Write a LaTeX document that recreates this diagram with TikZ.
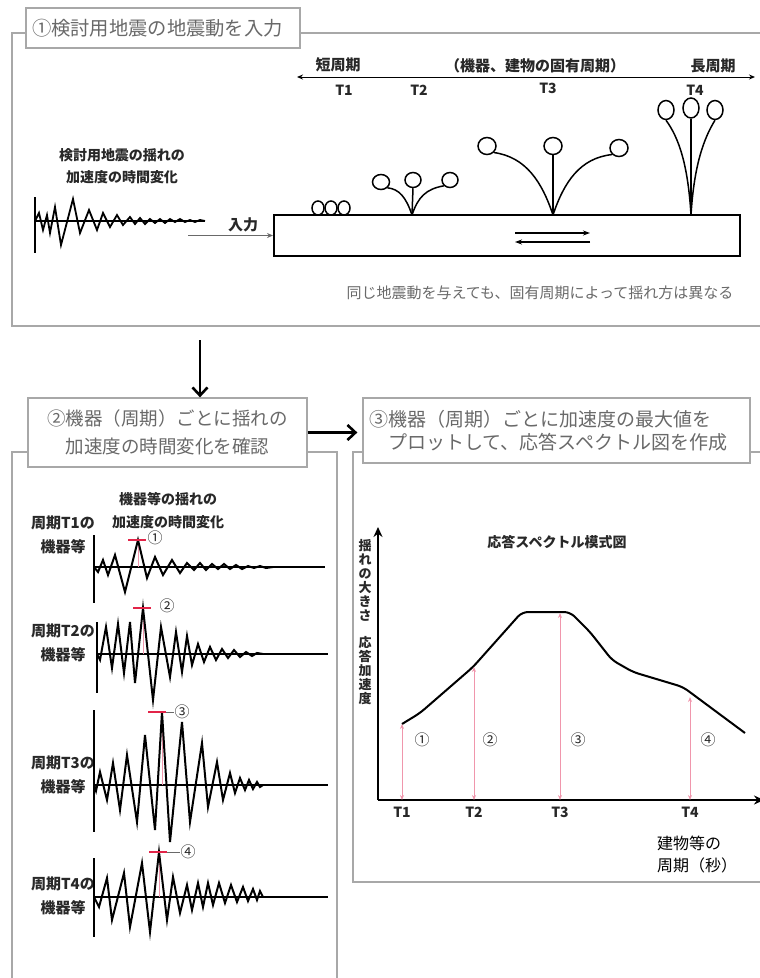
\documentclass[tikz,border=0pt]{standalone}
\usepackage{fontspec}
\setmainfont{Noto Sans CJK JP}
\usepackage{tikz}
\usetikzlibrary{positioning,arrows.meta,shapes.geometric}
\definecolor{framegray}{RGB}{168,168,168}
\definecolor{titlegray}{RGB}{105,105,105}
\definecolor{inkdark}{RGB}{40,40,40}
\definecolor{peakred}{RGB}{226,36,72}
\definecolor{peakpink}{RGB}{240,150,172}

\begin{document}
\begin{tikzpicture}[x=1pt, y=-1pt,
      every node/.style={inner sep=0pt, text=inkdark},
      panel/.style={draw=framegray, line width=1.6pt},
      ttl/.style={draw=framegray, fill=white, line width=1.3pt, text=titlegray, inner xsep=6pt, inner ysep=0pt},
      lbl/.style={font=\fontsize{14}{22}\selectfont\bfseries, align=center},
      period/.style={font=\fontsize{15}{24}\selectfont\bfseries, align=center},
      tick/.style={font=\fontsize{14}{14}\selectfont\bfseries},
      num/.style={font=\fontsize{15}{15}\selectfont},
      ball/.style={ellipse, draw=black, line width=1.5pt, minimum width=16pt, minimum height=15pt},
      stem/.style={line width=1.5pt},
      wave/.style={line width=2pt},
      waxis/.style={line width=1.3pt},
      peakbar/.style={draw=peakred, line width=1.7pt},
      peakline/.style={draw=peakpink, line width=1pt},
      flow/.style={line width=2.6pt, -{Straight Barb[length=8pt,width=15pt]}},
      resp/.style={draw=peakpink, line width=1pt, {Stealth[length=5pt,width=4pt]}-{Stealth[length=5pt,width=4pt]}},
      chartaxis/.style={line width=2.6pt, -{Stealth[length=10pt,width=9pt]}}
    ]
      \useasboundingbox (0,0) rectangle (760,978);

      % frames of the three panels
      \draw[panel] (12,33) rectangle (772,326);
      \draw[panel] (12,990) -- (12,452) -- (337,452) -- (337,990);
      \draw[panel] (353,452) rectangle (772,882);

      % panel titles
      \node[ttl, font=\fontsize{19.3}{24}\selectfont, text width=262pt, align=left, minimum height=40pt] (t1) at (163,28) {①検討用地震の地震動を入力};
      \node[ttl, font=\fontsize{18.5}{28}\selectfont, text width=267pt, align=center, minimum height=69pt] (t2) at (167.5,432.5) {②機器（周期）ごとに揺れの\\加速度の時間変化を確認};
      \node[ttl, font=\fontsize{19}{23}\selectfont, text width=375pt, align=left, minimum height=65pt] (t3) at (556.5,430.5) {③機器（周期）ごとに加速度の最大値を\\\hspace*{1em}プロットして、応答スペクトル図を作成};

      \coordinate (drop) at (200,340);
      \draw[flow] (drop) -- (drop |- t2.north);
      \draw[flow, shorten >=5pt] (t2.east) -- (t2.east -| t3.west);

      % ---- panel 1: input motion and the period axis ----
      \coordinate (tl) at (297,77);
      \coordinate (tr) at (755,77);
      \draw[line width=1pt, {Stealth[length=6pt,width=5pt]}-{Stealth[length=6pt,width=5pt]}] (tl) -- (tr);
      \node[tick, font=\fontsize{15}{15}\selectfont\bfseries] (short) at (338,65) {短周期};
      \node[tick, font=\fontsize{15}{15}\selectfont\bfseries] (mid) at (535,66) {（機器、建物の固有周期）};
      \node[tick, font=\fontsize{15}{15}\selectfont\bfseries] (long) at (713,66) {長周期};
      \foreach \x/\y [count=\i] in {344/90, 419/90, 548/88, 695/90}
        \node[tick] (tp\i) at (\x,\y) {T\i};

      % building block
      \node[draw=black, line width=2pt, minimum width=466pt, minimum height=41pt] (base) at (507,235.5) {};
      \coordinate (mvR) at (590,233);
      \coordinate (mvL) at (515,242);
      \draw[line width=1.3pt, -{Stealth[length=7pt,width=5pt]}] (mvL |- mvR) -- (mvR);
      \draw[line width=1.3pt, -{Stealth[length=7pt,width=5pt]}] (mvR |- mvL) -- (mvL);

      % T1: rigid, three balls on the floor
      \foreach \i/\x in {1/318, 2/331, 3/344}
        \node[ball, minimum width=12pt, minimum height=14pt] (a\i) at (\x,208) {};

      % T2
      \coordinate (b0) at (412,215);
      \node[ball, minimum width=17pt] (b1) at (381,182) {};
      \node[ball] (b2) at (413,180) {};
      \node[ball] (b3) at (450,180) {};
      \draw[stem] (b0) -- (b2.south);
      \draw[stem] (b0) .. controls (406,197) and (399,189) .. (b1.south east);
      \draw[stem] (b0) .. controls (418,197) and (426,189) .. (b3.south west);

      % T3
      \coordinate (c0) at (553,215);
      \node[ball, minimum width=18pt, minimum height=17pt] (c1) at (487,146) {};
      \node[ball, minimum width=18pt, minimum height=17pt] (c2) at (553,146) {};
      \node[ball, minimum width=18pt, minimum height=17pt] (c3) at (619,148) {};
      \draw[stem] (c0) -- (c2.south);
      \draw[stem] (c0) .. controls (542,182) and (526,157) .. (c1.south east);
      \draw[stem] (c0) .. controls (564,182) and (580,158) .. (c3.south west);

      % T4
      \coordinate (d0) at (691,215);
      \node[ball, minimum width=16pt, minimum height=19pt] (d1) at (666,110) {};
      \node[ball, minimum width=16pt, minimum height=20pt] (d2) at (691,108) {};
      \node[ball, minimum width=16pt, minimum height=19pt] (d3) at (715,110) {};
      \draw[stem] (d0) -- (d2.south);
      \draw[stem] (d0) .. controls (688,165) and (679,138) .. (d1.south);
      \draw[stem] (d0) .. controls (694,165) and (704,138) .. (d3.south);

      % input acceleration record
      \node[lbl] (inlbl) at (122,166) {検討用地震の揺れの\\加速度の時間変化};
      \draw[waxis] (35,197) -- (35,253);
      \draw[waxis] (35,221) -- (205,221);
      \draw[wave, line width=1.8pt, shift={(35,221)}] plot coordinates {(0,0) (4,-8) (8,9) (12,-6) (15,12) (20,-14) (26,24) (38,-22) (45,12) (54,-11) (62,9) (68,-8) (75,6) (82,-6) (88,4) (95,-4) (100,3) (105,-3) (110,3) (115,-2) (120,2) (125,-2) (130,2) (135,-2) (140,1) (145,-2) (150,1) (155,-1) (160,1) (165,-1) (170,0)};
      \node[tick, font=\fontsize{15}{15}\selectfont\bfseries] (inp) at (243,225) {入力};
      \coordinate (in0) at (188,235.5);
      \draw[draw=titlegray, line width=1pt, -{Stealth[length=6pt,width=5pt]}] (in0) -- (base.west);

      \node[font=\fontsize{15}{15}\selectfont, text=titlegray] (note) at (540,293) {同じ地震動を与えても、固有周期によって揺れ方は異なる};

      % ---- panel 2: response of each device ----
      \node[lbl, font=\fontsize{14}{23}\selectfont\bfseries] (hdr) at (168,511) {機器等の揺れの\\加速度の時間変化};

      % T1 device
      \node[period] (k1) at (63,534.5) {周期T1の\\機器等};
      \draw[waxis] (94,535) -- (94,603);
      \draw[waxis] (94,567) -- (325,567);
      \draw[peakline] (138,540) -- (138,567);
      \draw[wave, shift={(94,567)}] plot coordinates {(0,0) (4,5) (9,-7) (14,8) (21,-12) (31,25) (44,-27) (53,11) (61,-10) (69,8) (78,-7) (86,6) (93,-4) (100,3) (106,-4) (112,3) (118,-3) (124,2) (130,-3) (136,2) (142,-2) (148,2) (154,-1) (160,1) (166,-1) (172,1) (179,0)};
      \draw[peakbar] (128,540) -- (146,540);
      \node[num] (m1) at (155,538) {①};

      % T2 device
      \node[period] (k2) at (63,642.5) {周期T2の\\機器等};
      \draw[waxis] (97,622) -- (97,693);
      \draw[waxis] (97,654) -- (328,654);
      \draw[peakline] (143,608) -- (143,654);
      \draw[wave, shift={(97,654)}] plot coordinates {(0,0) (3,6) (9,-27) (15,14) (21,-30) (27,19) (33,-32) (38,29) (46,-46) (56,46) (64,-27) (73,23) (79,-22) (85,18) (90,-18) (95,11) (101,-10) (107,8) (113,-7) (119,6) (125,-5) (131,4) (137,-4) (143,3) (149,-2) (155,2) (160,-1) (166,0)};
      \draw[peakbar] (133,608) -- (151,608);
      \node[num] (m2) at (167,606) {②};

      % T3 device
      \node[period] (k3) at (63,775) {周期T3の\\機器等};
      \draw[waxis] (94,710) -- (94,832);
      \draw[waxis] (94,785) -- (328,785);
      \draw[peakline] (162,712) -- (162,785);
      \draw[wave, shift={(94,785)}] plot coordinates {(0,0) (2,6) (6,-13) (13,15) (19,-22) (26,25) (33,-30) (43,37) (51,-50) (61,45) (68,-73) (76,57) (88,-63) (96,37) (108,-42) (114,22) (123,-23) (129,15) (136,-12) (141,8) (146,-7) (151,5) (155,-5) (159,4) (163,-3) (166,2) (169,0)};
      \draw[peakbar] (148,712) -- (166,712);
      \node[num] (m3) at (182,712) {③};
      \draw[draw=titlegray, line width=0.8pt] (166,712) -- (m3.west);

      % T4 device
      \node[period] (k4) at (63,896) {周期T4の\\機器等};
      \draw[waxis] (94,858) -- (94,937);
      \draw[waxis] (94,897) -- (328,897);
      \draw[peakline] (159,852) -- (159,897);
      \draw[wave, shift={(94,897)}] plot coordinates {(0,0) (5,10) (13,-19) (18,23) (30,-24) (36,30) (48,-34) (56,35) (65,-45) (73,23) (79,-20) (86,16) (93,-12) (98,13) (104,-14) (109,10) (114,-14) (119,8) (125,-14) (131,6) (137,-12) (143,5) (149,-10) (154,4) (159,-8) (163,3) (166,-6) (169,0)};
      \draw[peakbar] (149,852) -- (167,852);
      \node[num] (m4) at (188,852) {④};
      \draw[draw=titlegray, line width=0.8pt] (167,852) -- (m4.west);

      % ---- panel 3: response spectrum ----
      \node[lbl] (stitle) at (557,542) {応答スペクトル模式図};
      \coordinate (O) at (378,800);
      \coordinate (ytop) at (378,527);
      \coordinate (xend) at (764,800);
      \draw[chartaxis] (O) -- (ytop);
      \draw[chartaxis] (O) -- (xend);
      \node[font=\fontsize{13}{14}\selectfont\bfseries, align=center, anchor=north] (ylab) at (365,539) {揺\\れ\\の\\大\\き\\さ\\[13pt]応\\答\\加\\速\\度};

      \draw[line width=2pt, rounded corners=6pt] (402,724) -- (420,713) -- (473,667) -- (522,612) -- (570,612) -- (590,632) -- (612,660) -- (633,672) -- (683,687) -- (745,733);

      \foreach \x/\y [count=\i] in {402/724, 474/667, 560/613, 690/697} {
        \coordinate (p\i) at (\x,800);
        \coordinate (q\i) at (\x,\y);
        \draw[resp] (p\i) -- (q\i);
        \node[tick] (ts\i) at (\x,812) {T\i};
      }
      \foreach \x/\c [count=\i] in {422/①, 490/②, 578/③, 708/④}
        \node[num] (r\i) at (\x,740) {\c};

      \node[font=\fontsize{16}{22}\selectfont, text=black, align=left] (xlab) at (697,854) {建物等の\\周期（秒）};
    \end{tikzpicture}
\end{document}
